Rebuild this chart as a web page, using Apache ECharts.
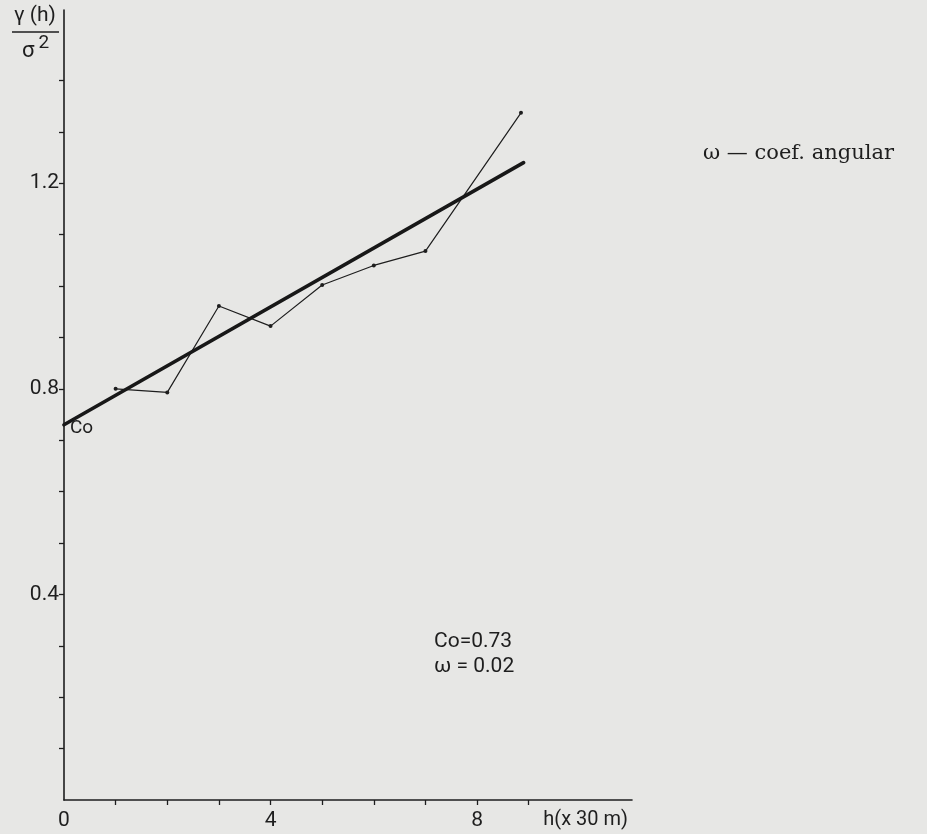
<!DOCTYPE html>
<html><head><meta charset="utf-8">
<script src="https://cdn.jsdelivr.net/npm/echarts@6/dist/echarts.min.js"></script>
<style>html,body{margin:0;padding:0;background:#e7e7e5}#c{width:927px;height:834px}</style>
</head><body><div id="c"></div>
<script>
// Experimental variogram (lag in units of 30 m, normalised gamma)
const lagH = [1, 2, 3, 4, 5, 6, 7, 8.85];
const gammaRatio = [0.800, 0.793, 0.961, 0.922, 1.002, 1.040, 1.068, 1.337];
// Fitted linear model
const fitH = [0, 8.9];
const fitGamma = [0.73, 1.24];
// Axis ticks / labels
const xTickValues = [1, 2, 3, 4, 5, 6, 7, 8, 9];
const xLabelValues = [0, 4, 8];
const yTickValues = [0.1, 0.2, 0.3, 0.4, 0.5, 0.6, 0.7, 0.8, 0.9, 1.0, 1.1, 1.2, 1.3, 1.4];
const yLabelValues = [0.4, 0.8, 1.2];
const xName = 'h(x 30 m)';
const paramText = ['Co=0.73', 'ω = 0.02'];
const legendText = 'ω — coef. angular';

const ink = '#1e1e1e';
const sans = 'Roboto';
const chart = echarts.init(document.getElementById('c'));
chart.setOption({
  backgroundColor: '#e7e7e5',
  animation: false,
  grid: {left: 64, right: 295, top: 10, bottom: 34, containLabel: false, outerBoundsMode: 'none'},
  xAxis: {
    type: 'value', min: 0, max: 11,
    axisLine: {show: true, lineStyle: {color: ink, width: 1.6}},
    axisTick: {show: true, length: 5, customValues: xTickValues, lineStyle: {color: ink, width: 1.3}},
    axisLabel: {show: true, customValues: xLabelValues, margin: 10, color: ink, fontFamily: sans, fontSize: 21},
    splitLine: {show: false},
    name: xName, nameLocation: 'end', nameGap: -4,
    nameTextStyle: {align: 'right', verticalAlign: 'top', padding: [10, 0, 0, 0], color: ink, fontFamily: sans, fontSize: 20}
  },
  yAxis: {
    type: 'value', min: 0, max: 1.537,
    axisLine: {show: true, lineStyle: {color: ink, width: 1.6}},
    axisTick: {show: true, length: 5, customValues: yTickValues, lineStyle: {color: ink, width: 1.3}},
    axisLabel: {show: true, customValues: yLabelValues, margin: 5, color: ink, fontFamily: sans, fontSize: 21,
      formatter: v => v.toFixed(1)},
    splitLine: {show: false}
  },
  series: [
    {
      type: 'line', data: lagH.map((h, i) => [h, gammaRatio[i]]),
      symbol: 'circle', symbolSize: 4, showSymbol: true,
      lineStyle: {color: ink, width: 1.2}, itemStyle: {color: ink}, z: 2
    },
    {
      type: 'line', data: fitH.map((h, i) => [h, fitGamma[i]]),
      symbol: 'none', lineStyle: {color: '#181818', width: 3.6, cap: 'round'}, z: 3
    }
  ],
  graphic: [
    {type: 'text', left: 14, top: 5, style: {text: 'γ (h)', font: '21px ' + sans, fill: ink}},
    {type: 'line', shape: {x1: 12, y1: 32, x2: 59, y2: 32}, style: {stroke: ink, lineWidth: 1.6}},
    {type: 'text', left: 22, top: 34, style: {text: '{a|σ}{b|2}', fill: ink,
      rich: {a: {font: '22px ' + sans, fill: ink, padding: [6, 4, 0, 0]}, b: {font: '19px ' + sans, fill: ink, verticalAlign: 'top'}}}},
    {type: 'text', left: 70, top: 419, style: {text: 'Co', font: '19px ' + sans, fill: ink}},
    {type: 'text', left: 434, top: 631, style: {text: paramText[0], font: '21px ' + sans, fill: ink}},
    {type: 'text', left: 434, top: 656, style: {text: paramText[1], font: '21px ' + sans, fill: ink}},
    {type: 'text', left: 703, top: 143, style: {text: legendText, font: '21px "DejaVu Serif"', fill: ink}}
  ]
});
</script></body></html>
